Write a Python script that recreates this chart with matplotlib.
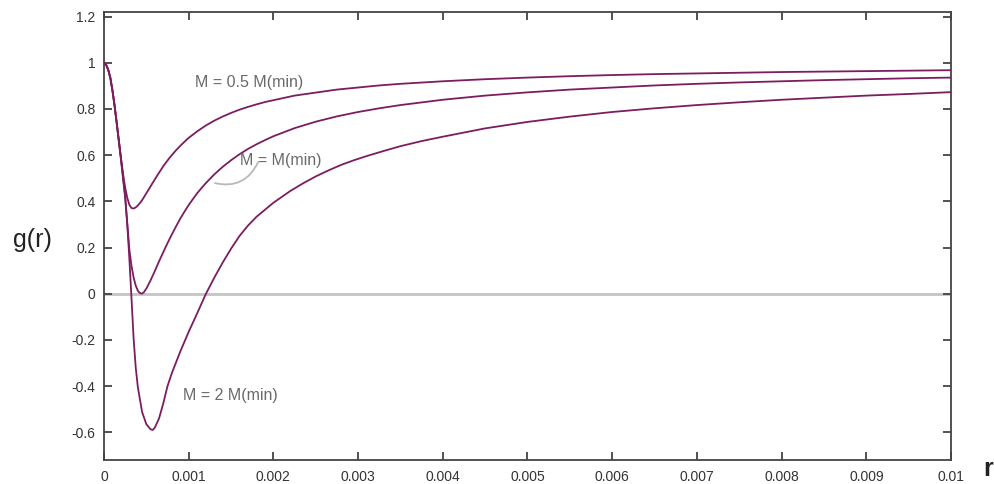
import numpy as np
import matplotlib
matplotlib.use("Agg")
import matplotlib.pyplot as plt
from matplotlib.ticker import FuncFormatter, MultipleLocator

plt.rcParams['font.family'] = ['Liberation Sans', 'DejaVu Sans']

# g(r) for three masses; r given in units of 1e-4
r_half = [0, 0.25, 0.5, 0.75, 1.0, 1.25, 1.5, 1.75, 2.0, 2.25, 2.5, 2.75, 3.0,
          3.25, 3.5, 3.75, 4.0, 4.5, 5.0, 5.5, 6.0, 6.5, 7.0, 7.5, 8.0, 8.5,
          9.0, 9.5, 10, 11, 12, 13, 14, 15, 16, 17, 18, 19, 20, 22.5, 25,
          27.5, 30, 32.5, 35, 40, 45, 50, 55, 60, 65, 70, 75, 80, 85, 90, 95,
          100]
g_half = [1.000, 0.992, 0.970, 0.935, 0.880, 0.815, 0.740, 0.665, 0.590, 0.520,
          0.460, 0.415, 0.385, 0.371, 0.369, 0.374, 0.382, 0.405, 0.435, 0.465,
          0.495, 0.524, 0.552, 0.577, 0.600, 0.621, 0.640, 0.658, 0.675, 0.703,
          0.728, 0.749, 0.767, 0.783, 0.797, 0.809, 0.820, 0.830, 0.838, 0.858,
          0.871, 0.884, 0.893, 0.902, 0.909, 0.920, 0.929, 0.936, 0.942, 0.947,
          0.951, 0.954, 0.957, 0.960, 0.962, 0.964, 0.966, 0.968]

r_min = [0, 0.25, 0.5, 0.75, 1.0, 1.25, 1.5, 1.75, 2.0, 2.25, 2.5, 2.75, 3.0,
         3.25, 3.5, 3.75, 4.0, 4.2, 4.45, 4.7, 5.0, 5.5, 6.0, 6.5, 7.0, 7.5,
         8, 8.5, 9, 9.5, 10, 10.5, 11, 11.5, 12, 13, 14, 15, 16, 17, 18, 19,
         20, 22.5, 25, 27.5, 30, 32.5, 35, 40, 45, 50, 55, 60, 65, 70, 75, 80,
         85, 90, 95, 100]
g_min = [1.000, 0.992, 0.970, 0.935, 0.880, 0.815, 0.740, 0.663, 0.585, 0.505,
         0.420, 0.305, 0.190, 0.120, 0.070, 0.035, 0.013, 0.004, 0.000, 0.006,
         0.022, 0.058, 0.098, 0.140, 0.180, 0.219, 0.256, 0.291, 0.325, 0.355,
         0.384, 0.410, 0.435, 0.457, 0.478, 0.516, 0.549, 0.578, 0.604, 0.627,
         0.647, 0.665, 0.682, 0.717, 0.745, 0.768, 0.787, 0.803, 0.817, 0.840,
         0.858, 0.872, 0.884, 0.893, 0.902, 0.909, 0.915, 0.920, 0.925, 0.929,
         0.933, 0.936]

r_two = [0, 0.25, 0.5, 0.75, 1.0, 1.25, 1.5, 1.75, 2.0, 2.25, 2.5, 2.75, 3.0,
         3.25, 3.5, 3.75, 4.0, 4.5, 5.0, 5.5, 5.75, 6.0, 6.5, 7.0, 7.5, 8, 9,
         10, 11, 12, 13, 14, 15, 16, 17, 18, 20, 22, 23.5, 25, 26.5, 28, 29.5,
         31, 33, 35, 37.5, 40, 45, 50, 55, 60, 65, 70, 75, 80, 85, 90, 95, 100]
g_two = [1.000, 0.992, 0.970, 0.935, 0.880, 0.815, 0.740, 0.663, 0.585, 0.500,
         0.420, 0.300, 0.150, -0.020, -0.195, -0.320, -0.405, -0.512, -0.565,
         -0.587, -0.590, -0.580, -0.540, -0.475, -0.400, -0.345, -0.251, -0.165,
         -0.085, -0.003, 0.068, 0.134, 0.195, 0.250, 0.295, 0.333, 0.394, 0.445,
         0.478, 0.508, 0.534, 0.558, 0.578, 0.596, 0.618, 0.639, 0.661, 0.680,
         0.716, 0.744, 0.767, 0.787, 0.803, 0.817, 0.829, 0.840, 0.849, 0.858,
         0.865, 0.873]

line_color = '#7b1d5e'
label_color = '#6a6a6a'

fig = plt.figure(figsize=(9.95, 4.84), dpi=100)
ax = fig.add_axes([0.1045, 0.0496, 0.8513, 0.9256])

ax.axhline(0, color='#c4c4c4', lw=2.0, zorder=1)
for r, g in [(r_half, g_half), (r_min, g_min), (r_two, g_two)]:
    ax.plot(np.array(r) * 1e-4, g, color=line_color, lw=1.3, zorder=3,
            solid_joinstyle='round')

ax.set_xlim(0, 0.01)
ax.set_ylim(-0.72, 1.22)
ax.xaxis.set_major_locator(MultipleLocator(0.001))
ax.yaxis.set_major_locator(MultipleLocator(0.2))
fmt = FuncFormatter(lambda v, pos: '%g' % round(v, 6))
ax.xaxis.set_major_formatter(fmt)
ax.yaxis.set_major_formatter(fmt)
ax.tick_params(direction='in', length=6, width=1.3, color='#444444',
               labelsize=10, labelcolor='#333333', top=True, right=True)
ax.tick_params(axis='x', pad=7)
ax.tick_params(axis='y', pad=6)
for s in ax.spines.values():
    s.set_color('#444444')
    s.set_linewidth(1.3)

ax.text(0.00107, 0.915, 'M = 0.5 M(min)', color=label_color, fontsize=11.5,
        ha='left', va='center')
ax.text(0.00160, 0.578, 'M = M(min)', color=label_color, fontsize=11.5,
        ha='left', va='center')
ax.text(0.00093, -0.44, 'M = 2 M(min)', color=label_color, fontsize=11.5,
        ha='left', va='center')
ax.annotate('', xy=(0.00182, 0.57), xytext=(0.00131, 0.479),
            arrowprops=dict(arrowstyle='-', color='#b8b8b8', lw=1.3,
                            connectionstyle='arc3,rad=0.4',
                            shrinkA=0, shrinkB=0))

fig.text(0.033, 0.505, 'g(r)', fontsize=18, color='#222222',
         ha='center', va='center')
fig.text(0.993, 0.03, 'r', fontsize=18, fontweight='bold', color='#222222',
         ha='center', va='center')

fig.savefig('out.png', dpi=100)
